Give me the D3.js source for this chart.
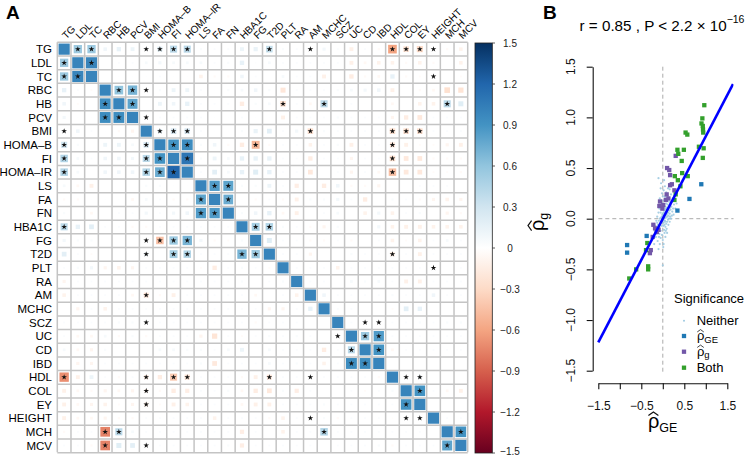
<!DOCTYPE html>
<html><head><meta charset="utf-8">
<script src="https://cdn.jsdelivr.net/npm/d3@7/dist/d3.min.js"></script>
<style>body{margin:0;background:#fff}svg{display:block;font-family:"Liberation Sans",Arial,Helvetica,sans-serif}</style>
</head><body><svg id="c" width="747" height="456"></svg>
<script>
const traits = ["TG","LDL","TC","RBC","HB","PCV","BMI","HOMA–B","FI","HOMA–IR","LS","FA","FN","HBA1C","FG","T2D","PLT","RA","AM","MCHC","SCZ","UC","CD","IBD","HDL","COL","EY","HEIGHT","MCH","MCV"];
const values = [
[1,.55,.55,.1,.15,.12,.06,.2,.4,.4,.04,.03,.03,.12,.14,.35,.04,.03,-.03,.08,.03,-.12,.03,-.04,-.6,-.25,-.3,-.03,-.04,-.1],
[.55,1,1,0,.03,.03,.06,.08,.06,.06,.06,.03,.04,.15,.02,.06,.03,.03,.03,.03,.03,-.12,-.06,-.1,-.1,-.04,-.1,-.04,0,-.1],
[.55,1,1,0,.01,.01,.01,.03,.01,.01,-.1,-.04,-.04,.1,.03,0,.06,.03,.03,-.12,0,-.15,-.04,-.06,.15,-.04,-.03,.03,0,-.03],
[.15,.03,-.03,1,.6,.7,.03,.04,.12,.12,.03,.01,.04,.06,.1,.04,-.2,.03,.03,.03,.04,.06,.08,.1,-.12,.01,-.04,-.06,-.25,-.22],
[.1,-.03,0,.95,1,.8,.01,.12,.1,.15,.03,.03,.03,-.15,.04,.06,-.25,.03,-.06,.4,0,.03,.01,.01,-.06,.01,-.1,-.1,.4,.2],
[.08,.01,.01,.95,.95,1,.02,.03,.03,.03,.03,.01,.01,.03,.01,.01,-.12,.03,.03,.03,.04,.03,.03,.03,-.08,-.15,-.18,.03,.03,.03],
[.06,.1,.03,.01,-.04,-.08,1,.15,.25,.25,.03,.01,.01,.04,.14,.18,.03,.08,-.25,.04,.03,.03,.03,.03,-.25,-.25,-.25,.03,.03,.03],
[.3,.04,0,.12,.12,.06,.25,1,.9,.95,.04,.1,-.04,-.15,-.5,-.04,.03,.03,-.1,.03,.04,-.12,.03,.03,-.2,-.12,-.03,-.03,-.08,-.12],
[.45,.06,.03,.1,.1,.08,.4,.9,1,1.1,.04,.12,.06,.15,.15,.15,.03,.03,-.15,.03,.03,-.08,.03,.03,-.25,-.18,-.18,-.04,-.04,-.04],
[.45,.06,0,.1,.1,.1,.45,.75,1.2,1,.03,.18,.06,.15,.2,.15,.03,.03,-.18,0,.03,-.08,.03,-.06,-.45,-.18,-.18,-.03,-.03,-.04],
[.06,-.06,-.12,0,0,0,.04,.04,.01,.01,1,.85,.8,.04,.04,.12,.03,-.14,0,-.15,.1,-.04,-.04,-.08,0,0,.03,.03,.03,0],
[-.04,-.04,.01,.01,.01,-.06,.06,.03,-.04,-.04,.8,1,.75,.01,-.04,.03,-.04,-.12,.04,.04,.08,.03,-.15,0,.04,.03,-.04,-.08,-.1,-.08],
[.04,0,-.06,0,.03,.03,.08,.03,.08,.1,.85,.85,1,.04,.1,.15,-.06,-.12,0,.03,.06,0,-.1,.08,-.1,.03,.04,0,-.08,-.04],
[.4,.15,.18,.03,.03,-.04,-.04,.03,.03,.03,.03,.03,.03,1,.5,.45,.04,.03,-.04,-.08,.04,0,0,.08,-.1,-.12,-.12,-.1,-.1,-.1],
[.08,.04,.04,0,0,0,.03,-.45,.55,.7,.08,-.04,-.03,.04,1,.2,.03,.03,-.04,-.04,.03,-.04,0,.03,-.1,-.03,-.1,.03,.06,.03],
[.18,.03,-.03,0,0,0,.12,0,.5,.45,.03,.03,.03,.7,.55,1,.03,.03,-.08,0,0,.04,.03,.03,-.15,.03,-.12,.03,.03,.03],
[.03,.04,.08,-.08,-.1,-.08,.03,.03,.03,.03,-.03,-.15,.03,.04,.03,-.03,1,.03,.03,.03,-.1,.03,.03,.03,.03,.03,.03,.03,0,.03],
[-.08,.03,.03,.03,.03,.03,.03,.03,.03,.03,.03,.03,.03,.04,0,.03,.04,1,.03,.03,0,.06,.04,.06,.03,-.12,-.12,.03,.03,.03],
[-.1,.03,.03,.03,.03,-.06,-.2,-.04,-.12,.03,.03,.03,.03,.03,-.06,0,.03,-.1,1,.1,.03,.03,.03,.03,.04,.03,.03,.1,.03,.03],
[0,-.08,.03,-.1,.03,.03,.03,.03,.03,.03,.03,.03,.03,.03,.03,-.08,-.08,.03,.15,1,.03,.03,0,0,-.03,.18,.15,0,0,0],
[.03,.03,.03,.03,.04,.04,.03,.03,.03,.03,.03,.03,.03,.03,-.04,.03,.03,.03,0,0,1,.03,.03,.03,.03,.03,.04,.03,.04,.04],
[.03,-.06,-.06,.06,-.04,.04,-.04,.03,.03,.03,-.08,-.22,.03,-.03,.03,.04,.03,.04,.03,0,.03,1,.55,.85,.03,.03,.03,.03,.03,.03],
[.06,-.06,-.08,.04,0,0,0,.06,.06,.04,.04,.03,.06,.12,0,.06,.03,.03,.03,-.15,.03,.4,1,.9,-.06,.03,.03,.03,.03,.03],
[0,-.08,-.08,.03,.03,.03,.03,.03,.03,.03,.04,-.18,.03,.03,.03,.06,.03,.04,.03,-.1,.03,.95,.95,1,0,0,0,0,0,0],
[-.7,-.12,.12,.03,-.04,.03,-.15,-.15,-.4,-.22,.03,.03,.03,-.04,-.12,-.2,.03,.03,-.02,.03,.03,.03,.03,-.04,1,.02,.1,0,0,0],
[-.12,-.06,-.04,-.08,-.06,-.08,-.1,-.04,-.15,-.14,.03,.03,.04,-.06,-.15,-.18,.04,-.14,.03,0,0,.03,-.03,.03,.04,1,.9,.03,-.06,-.12],
[-.12,-.06,-.08,-.1,-.03,-.08,-.12,-.03,-.12,-.1,.03,.03,.03,-.06,-.12,-.12,.03,.03,.03,.04,.03,.03,.03,.03,.03,.9,1,0,0,0],
[-.12,-.06,-.06,-.08,-.04,-.04,.03,.03,.03,.03,.03,-.1,.03,.03,.03,-.04,-.1,.03,.02,.04,-.04,.03,.03,.03,-.02,.02,.02,1,.03,.03],
[-.04,.03,.03,-.75,.4,.06,.03,.03,.03,.03,.03,.03,.03,-.14,.03,0,-.1,.03,.03,.45,.03,.03,.03,.03,.03,.03,.03,0,1,.9],
[.03,.03,-.04,-.75,.2,.18,.03,.03,.03,.03,.03,.03,.04,-.14,.03,.03,.03,.03,.03,0,.03,.03,.03,.04,-.04,.03,.03,.03,.8,1]
];
const starCols = [
[1,2,6,7,8,9,15,18,24,25,26,27],[0,2],[0,1,27],[4,5,6],[3,5,16,19,28],[3,4,6],
[0,7,8,9,18,24,25,26],[0,6,8,9,14,24],[0,6,7,9,24],[0,6,7,8,24],[11,12],[10,12],[10,11],
[0,14,15],[6,7,8,9],[6,8,9,13,14,24],[27],[],[6],[],[6,22,23],[20,22,23],[21,23],[21,22],
[0,6,8,9,15,18,25,26],[6,26],[6,25],[18,25,26],[3,4,19,29],[3,6,28]
];
const paletteColors = ["#67001F","#B2182B","#D6604D","#F4A582","#FDDBC7","#FFFFFF","#D1E5F0","#92C5DE","#4393C3","#2166AC","#053061"];
const cbTicks = [1.5,1.2,0.9,0.6,0.3,0,-0.3,-0.6,-0.9,-1.2,-1.5];

// panel B data: [rho_GE, rho_g]
const bothPts = [[0.965,1.12],[0.92,0.99],[0.90,0.94],[0.93,0.915],[0.935,0.88],[0.94,0.85],[0.53,0.85],[0.57,0.83],[0.84,0.71],[0.95,0.695],[0.34,0.68],[0.49,0.68],[0.36,0.64],[0.93,0.60],[0.44,0.57],[0.45,0.45],[0.28,0.42],[0.58,0.42],[0.35,0.38],[0.41,0.32],[0.30,0.24],[0.27,0.185],[-0.36,-0.24],[-0.39,-0.31],[-0.34,-0.47],[-0.34,-0.50],[-0.62,-0.50],[-0.78,-0.59]];
const gPts = [[0.30,0.62],[0.10,0.50],[0.15,0.48],[0.17,0.43],[0.21,0.34],[0.17,0.33],[0.27,0.28],[0.09,0.24],[0.07,0.185],[-0.065,0.17],[-0.08,0.125],[0.01,0.135],[-0.01,0.10],[0.13,0.20],[-0.22,-0.06],[-0.18,-0.095],[-0.10,-0.11],[-0.14,-0.13],[-0.235,-0.18],[-0.28,-0.31],[-0.30,-0.34]];
const gePts = [[0.895,0.34],[0.62,0.195],[0.34,0.08],[-0.375,-0.17],[-0.83,-0.26],[-0.83,-0.335]];
const neitherPts = [[-0.10,0.40],[-0.05,0.30],[0.02,0.28],[0.05,0.22],[0.08,0.15],[0.10,0.18],[0.12,0.10],[0.15,0.12],[0.03,0.08],[0.0,0.05],[-0.02,0.02],[0.01,-0.01],[0.04,0.03],[0.06,0.06],[-0.04,-0.03],[-0.06,-0.05],[-0.08,-0.09],[0.02,-0.04],[0.05,-0.02],[0.07,0.01],[0.09,0.04],[0.11,0.06],[0.13,0.03],[0.16,0.05],[0.18,0.09],[0.20,0.12],[0.22,0.07],[-0.01,0.12],[-0.03,0.09],[-0.05,0.06],[0.0,0.15],[0.03,0.18],[0.06,0.20],[-0.07,0.0],[-0.09,-0.02],[-0.11,-0.06],[-0.12,-0.10],[-0.14,-0.15],[-0.05,-0.12],[-0.02,-0.16],[0.01,-0.07],[0.03,-0.11],[0.06,-0.08],[0.08,-0.05],[0.10,-0.03],[0.12,-0.01],[0.14,0.0],[0.17,0.02],[0.19,0.0],[0.24,0.10],[0.26,0.14],[0.14,0.17],[0.11,0.22],[0.08,0.26],[0.05,0.32],[0.0,0.22],[-0.03,0.18],[-0.06,0.14],[-0.08,0.10],[-0.10,0.06],[-0.13,0.02],[-0.15,-0.02],[-0.17,-0.07],[-0.19,-0.12],[-0.08,-0.15],[-0.05,-0.19],[0.0,-0.21],[0.02,-0.25],[0.04,-0.14],[0.07,-0.12],[0.09,-0.10],[0.01,-0.28],[0.32,0.15],[0.28,0.18],[0.02,0.0],[0.04,0.01],[0.03,-0.02],[-0.01,0.04],[0.07,0.09],[0.09,0.11],[-0.04,0.01],[0.05,0.12],[0.11,0.14],[0.15,0.08],[0.18,0.16],[0.0,-0.46],[-0.07,-0.25],[-0.12,-0.22],[-0.16,-0.18],[-0.2,-0.25],[-0.1,-0.3],[0.06,-0.18],[0.1,-0.14],[0.13,-0.06],[0.16,-0.03],[0.21,0.03],[0.23,0.2],[0.19,0.24],[0.16,0.29],[0.12,0.3],[0.03,0.38],[-0.02,0.25],[-0.04,0.35],[-0.07,0.2],[0.01,0.1],[0.03,0.13],[0.06,0.1],[0.08,0.07],[0.1,0.02],[0.02,0.06],[-0.01,-0.04],[-0.03,-0.07],[0.04,-0.06],[0.06,-0.03],[0.12,0.06],[0.17,0.11],[0.2,0.17],[-0.09,-0.18],[-0.13,-0.04],[0.25,0.04],[0.29,0.1]];
const bTicks = [-1.5,-1,-0.5,0,0.5,1,1.5];
const fitLine = {slope:0.814, intercept:0.0, from:-1.5, to:1.633};

const svg = d3.select("#c");
const fmt = v => (v<0?"−":"")+Math.abs(v).toString();

// ---------- Panel A ----------
const gx = d3.scaleBand().domain(d3.range(30)).range([57.3,467.7]);
const gy = d3.scaleBand().domain(d3.range(30)).range([42.3,452.3]);
const s = gx.bandwidth();
const color = d3.scaleLinear().domain(d3.range(11).map(i=>-1.5+i*0.3)).range(paletteColors).clamp(true);

const A = svg.append("g");
for (let i=0;i<=30;i++){
  A.append("line").attr("x1",57.3+i*s).attr("x2",57.3+i*s).attr("y1",42.3).attr("y2",452.3).attr("stroke","#c4c4c4").attr("stroke-width",1.5);
  A.append("line").attr("y1",42.3+i*s).attr("y2",42.3+i*s).attr("x1",57.3).attr("x2",467.7).attr("stroke","#c4c4c4").attr("stroke-width",1.5);
}
const cells=[];
values.forEach((row,i)=>row.forEach((v,j)=>cells.push({i,j,v})));
A.selectAll("rect.cell").data(cells).join("rect").attr("class","cell")
 .each(function(d){
   const side = s*Math.sqrt(Math.min(Math.abs(d.v),1.5)/1.5);
   d3.select(this).attr("x",gx(d.j)+s/2-side/2).attr("y",gy(d.i)+s/2-side/2)
     .attr("width",side).attr("height",side).attr("fill",color(d.v));
 });
const starData=[];
starCols.forEach((cols,i)=>cols.forEach(j=>starData.push({i,j})));
A.selectAll("path.star").data(starData).join("path").attr("class","star")
 .attr("d",d3.symbol(d3.symbolStar,10))
 .attr("transform",d=>`translate(${gx(d.j)+s/2},${gy(d.i)+s/2})`).attr("fill","#111");
A.selectAll("text.rl").data(traits).join("text").attr("class","rl")
 .attr("x",52).attr("y",(d,i)=>gy(i)+s/2+4.1).attr("text-anchor","end")
 .attr("font-size",11.5).text(d=>d);
A.selectAll("text.cl").data(traits).join("text").attr("class","cl")
 .attr("transform",(d,i)=>`translate(${gx(i)+s/2+2},${39.5}) rotate(-45)`)
 .attr("font-size",10).text(d=>d);
A.append("text").attr("x",6).attr("y",19).attr("font-size",19).attr("font-weight","bold").text("A");

// colorbar
const cbY = d3.scaleLinear().domain([-1.5,1.5]).range([453,43]);
const defs = svg.append("defs");
const lg = defs.append("linearGradient").attr("id","cb").attr("x1",0).attr("x2",0).attr("y1",1).attr("y2",0);
paletteColors.forEach((c,k)=>lg.append("stop").attr("offset",k/10).attr("stop-color",c));
svg.append("rect").attr("x",475).attr("y",43).attr("width",17.3).attr("height",410).attr("fill","url(#cb)").attr("stroke","#222").attr("stroke-width",0.8);
const cbG = svg.append("g");
cbTicks.forEach(t=>{
  cbG.append("line").attr("x1",492.3).attr("x2",495).attr("y1",cbY(t)).attr("y2",cbY(t)).attr("stroke","#333").attr("stroke-width",0.8);
  cbG.append("text").attr("x",510).attr("y",Math.min(cbY(t)+3.5,454.5)).attr("text-anchor","middle").attr("font-size",10).attr("fill","#222").text(fmt(t));
});

// ---------- Panel B ----------
const bx = d3.scaleLinear().domain([-1.5,1.5]).range([598.3,727.3]);
const by = d3.scaleLinear().domain([-1.5,1.5]).range([370.7,66.7]);
const B = svg.append("g");
B.append("text").attr("x",543).attr("y",19).attr("font-size",19).attr("font-weight","bold").text("B");
const title = B.append("text").attr("x",662).attr("y",30.5).attr("text-anchor","middle").attr("font-size",15.2);
title.append("tspan").text("r = 0.85 , P < 2.2 × 10");
title.append("tspan").attr("font-size",10.5).attr("dy",-8).text("−16");

defs.append("clipPath").attr("id","pb").append("rect").attr("x",596).attr("y",64).attr("width",137.5).attr("height",310);
const P = B.append("g").attr("clip-path","url(#pb)");
P.append("line").attr("x1",bx(0)).attr("x2",bx(0)).attr("y1",66.7).attr("y2",372).attr("stroke","#aaa").attr("stroke-dasharray","4,3");
P.append("line").attr("x1",598.3).attr("x2",735).attr("y1",by(0)).attr("y2",by(0)).attr("stroke","#aaa").attr("stroke-dasharray","4,3");
P.selectAll("circle.ne").data(neitherPts).join("circle").attr("class","ne")
 .attr("cx",d=>bx(d[0])).attr("cy",d=>by(d[1])).attr("r",1.1).attr("fill","#9ecae1").attr("opacity",0.9);
const sq = 4.3;
function squares(data,col){
  P.selectAll(null).data(data).join("rect").attr("x",d=>bx(d[0])-sq/2).attr("y",d=>by(d[1])-sq/2)
   .attr("width",sq).attr("height",sq).attr("fill",col);
}
squares(gePts,"#1f78b4");
squares(gPts,"#7257a8");
squares(bothPts,"#33a02c");
P.append("line").attr("x1",bx(fitLine.from)).attr("y1",by(fitLine.intercept+fitLine.slope*fitLine.from))
 .attr("x2",bx(fitLine.to)).attr("y2",by(fitLine.intercept+fitLine.slope*fitLine.to))
 .attr("stroke","#0000ff").attr("stroke-width",2.6);

const xAxis = d3.axisBottom(bx).tickValues(bTicks).tickSize(6).tickSizeOuter(0).tickPadding(12.5)
  .tickFormat(v=>[-1.5,-0.5,0.5,1.5].includes(v)?fmt(v):"");
const xa = B.append("g").attr("transform","translate(0,383.3)").call(xAxis);
xa.selectAll("text").attr("font-size",12).attr("font-family","Liberation Sans, Arial").attr("fill","#111");
xa.selectAll("line,path").attr("stroke","#111").attr("stroke-width",1.1);
const yAxis = d3.axisLeft(by).tickValues(bTicks).tickSize(6).tickSizeOuter(0).tickFormat("");
const ya = B.append("g").attr("transform","translate(592.7,0)").call(yAxis);
ya.selectAll("line,path").attr("stroke","#111").attr("stroke-width",1.1);
B.selectAll("text.yt").data(bTicks).join("text").attr("class","yt")
 .attr("transform",d=>`translate(575,${by(d)}) rotate(-90)`).attr("text-anchor","middle")
 .attr("font-size",12).attr("fill","#111").text(d=>fmt(d).replace(/^(−?\d)$/,"$1.0"));

function rhoHat(g, fs, sub, subfs){
  g.append("text").attr("x",0).attr("y",0).attr("font-size",fs).text("ρ");
  g.append("text").attr("x",fs*0.56).attr("y",fs*0.22).attr("font-size",subfs).text(sub);
  g.append("path").attr("d",`M${fs*0.02},${-fs*0.62} L${fs*0.27},${-fs*0.8} L${fs*0.52},${-fs*0.62}`)
   .attr("fill","none").attr("stroke","#111").attr("stroke-width",fs*0.06);
}
rhoHat(B.append("g").attr("transform","translate(648,428)"),20,"GE",12.5);
rhoHat(B.append("g").attr("transform","translate(544,231) rotate(-90)"),20,"g",12.5);

const L = B.append("g");
L.append("text").attr("x",674).attr("y",303).attr("font-size",13).text("Significance");
L.append("circle").attr("cx",684).attr("cy",320.7).attr("r",1).attr("fill","#9ecae1");
L.append("text").attr("x",696.7).attr("y",325).attr("font-size",13).text("Neither");
const legSq=[[336,"#1f78b4"],[351.7,"#7257a8"],[367.7,"#33a02c"]];
legSq.forEach(d=>L.append("rect").attr("x",684-sq/2).attr("y",d[0]-sq/2).attr("width",sq).attr("height",sq).attr("fill",d[1]));
rhoHat(L.append("g").attr("transform","translate(697,340)"),13,"GE",9.5);
rhoHat(L.append("g").attr("transform","translate(697,355.5)"),13,"g",9.5);
L.append("text").attr("x",696.7).attr("y",372).attr("font-size",13).text("Both");
</script></body></html>
